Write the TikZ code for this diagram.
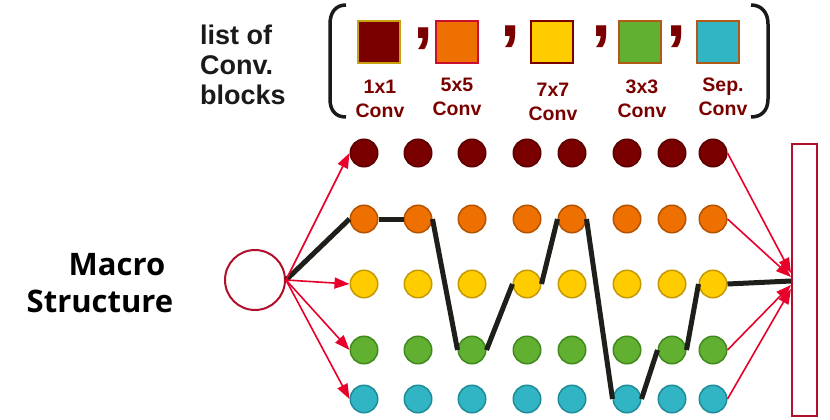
\documentclass[tikz,border=0pt]{standalone}
\usepackage{fontspec}
\setmainfont{Liberation Sans}
\newfontfamily\macrofont{Open Sans}
\usetikzlibrary{arrows.meta}

\definecolor{cvred}{HTML}{7A0000}
\definecolor{cvredline}{HTML}{5A0000}
\definecolor{cvorange}{HTML}{EE7000}
\definecolor{cvorangeline}{HTML}{B45200}
\definecolor{cvyellow}{HTML}{FFCC00}
\definecolor{cvyellowline}{HTML}{C49A00}
\definecolor{cvgreen}{HTML}{62B031}
\definecolor{cvgreenline}{HTML}{3F8A1E}
\definecolor{cvcyan}{HTML}{31B5C4}
\definecolor{cvcyanline}{HTML}{1F8C9A}
\definecolor{blkgold}{HTML}{C8A010}
\definecolor{blkcrimson}{HTML}{C8102E}
\definecolor{blkbrown}{HTML}{B05A18}
\definecolor{ring}{HTML}{B0102A}
\definecolor{feedred}{HTML}{E8002A}
\definecolor{pathblack}{HTML}{1E1E1A}
\definecolor{listgray}{HTML}{1A1A1A}

\begin{document}
\begin{tikzpicture}[x=1pt,y=-1pt,
    dot/.style={circle,minimum size=27.5pt,inner sep=0pt,line width=1.5pt},
    blk/.style={minimum size=42pt,inner sep=0pt,line width=2pt},
    lbl/.style={font=\bfseries\fontsize{19.5}{24}\selectfont,text=cvred,align=center,inner sep=0pt},
    comma/.style={font=\bfseries\fontsize{72}{72}\selectfont,text=cvred,inner sep=3pt},
    brk/.style={draw=listgray,line width=3.5pt},
    feed/.style={draw=feedred,line width=1.6pt,-{Triangle[length=15pt,width=11pt]}},
    chosen/.style={draw=pathblack,line width=5pt}
]
    \useasboundingbox (0,0) rectangle (830,420);

    % Labels on the left
    \node[anchor=north west,align=left,inner sep=0pt,text=listgray,
          font=\bfseries\fontsize{27}{30}\selectfont] (listlbl) at (200,25) {list of\\Conv.\\blocks};
    \node[align=right,inner sep=0pt,
          font=\macrofont\bfseries\fontsize{31}{37}\selectfont] (macrolbl) at (100,283) {Macro\hspace*{8pt}\\Structure};

    % Brackets around the block list
    \draw[brk] (346,5) .. controls (336,5) and (330,12) .. (330,24) -- (330,99)
        .. controls (330,111) and (336,117) .. (346,117);
    \draw[brk] (751,5) .. controls (761,5) and (768,12) .. (768,24) -- (768,99)
        .. controls (768,111) and (761,117) .. (751,117);

    % Block list
    \foreach \n/\x/\fc/\bc in {k1/379/cvred/blkgold, k5/457/cvorange/blkcrimson,
        k7/552/cvyellow/cvred, k3/640/cvgreen/blkbrown, ks/718/cvcyan/blkbrown}
        \node[blk,fill=\fc,draw=\bc] (\n) at (\x,42) {};
    \foreach \x/\y in {423/39, 510/37, 601/37, 676/37}
        \node[comma] at (\x,\y) {,};
    \node[lbl] (k1-name) at (380,99) {1x1\\Conv};
    \node[lbl] (k5-name) at (457,97) {5x5\\Conv};
    \node[lbl] (k7-name) at (553,102) {7x7\\Conv};
    \node[lbl] (k3-name) at (642,99) {3x3\\Conv};
    \node[lbl] (ks-name) at (723,97) {Sep.\\Conv};

    % Input and output
    \node[circle,draw=ring,line width=2pt,minimum size=60pt,inner sep=0pt] (hub) at (255,280) {};
    \node[draw=ring,line width=2.5pt,minimum width=25pt,minimum height=272pt,inner sep=0pt] (out) at (804.5,280) {};
    \coordinate (in1) at (791,273);
    \coordinate (in2) at (791,277);
    \coordinate (in3) at (791,281);
    \coordinate (in4) at (791,285);
    \coordinate (in5) at (791,289);

    % Grid of choices, one row per block type
    \foreach \r/\y/\fc/\bc in {1/153/cvred/cvredline, 2/219/cvorange/cvorangeline,
        3/284/cvyellow/cvyellowline, 4/350/cvgreen/cvgreenline, 5/399/cvcyan/cvcyanline}
        \foreach \c/\x in {1/364,2/418,3/472,4/527,5/572,6/627,7/672,8/713}
            \node[dot,fill=\fc,draw=\bc] (d\r-\c) at (\x,\y) {};

    % Sampled path
    \foreach \a/\b in {hub/d2-1, d2-1/d2-2, d2-2/d4-3, d4-3/d3-4, d3-4/d2-5,
        d2-5/d5-6, d5-6/d4-7, d4-7/d3-8}
        \draw[chosen] (\a.east) -- (\b.west);
    \draw[chosen] (d3-8.east) -- (in3);

    % Remaining edges
    \foreach \r in {1,3,4,5}
        \draw[feed] (hub.east) -- (d\r-1.west);
    \foreach \r in {1,2,4,5}
        \draw[feed] (d\r-8.east) -- (in\r);

\end{tikzpicture}
\end{document}
